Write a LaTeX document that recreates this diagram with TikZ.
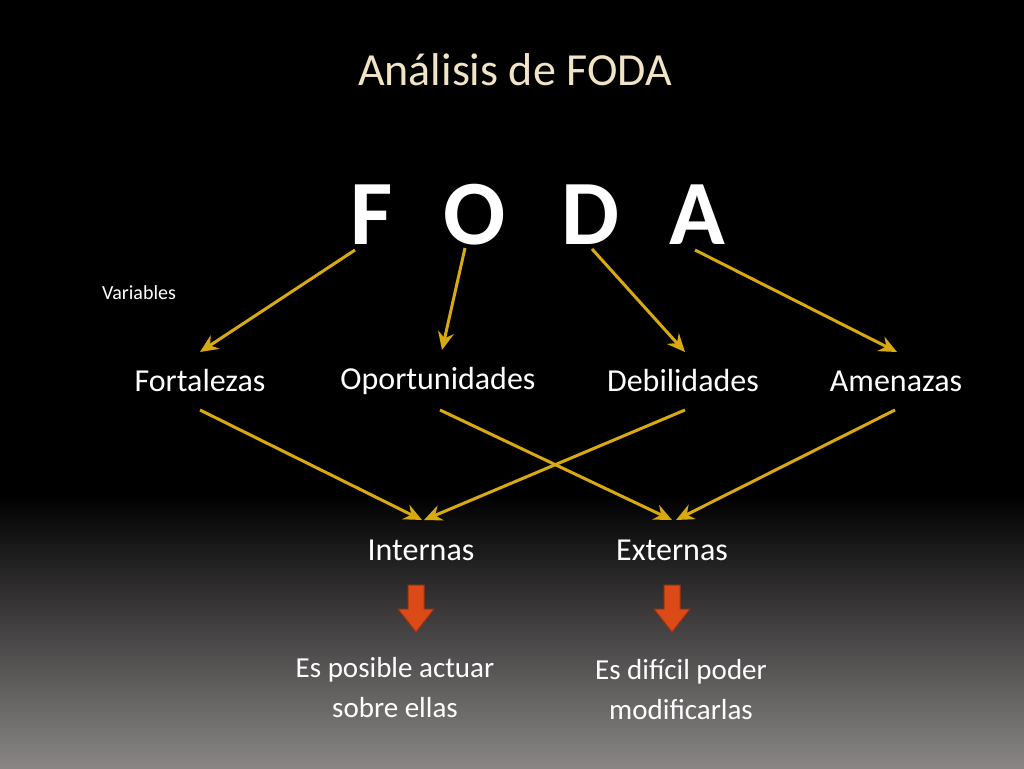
\documentclass[tikz,border=0pt]{standalone}
\usepackage{fontspec}
\setmainfont{Carlito}
\usetikzlibrary{arrows.meta}
\definecolor{gold}{HTML}{D8AA10}
\definecolor{cream}{HTML}{F0E4C4}
\definecolor{redarr}{HTML}{DC4A18}
\begin{document}
\begin{tikzpicture}[x=1pt,y=-1pt,
  lbl/.style={text=white,font=\fontsize{32}{36}\selectfont,inner sep=0},
  big/.style={text=white,font=\fontsize{92}{96}\selectfont\bfseries,inner sep=0},
  conn/.style={draw=gold,line width=3,-{Stealth[length=18,width=16,inset=6]},shorten <=0,shorten >=0},
  down/.style={fill=redarr,draw=redarr!70!black,line width=1}]
\useasboundingbox (0,0) rectangle (1024,768);
\fill[black] (0,0) rectangle (1024,768);
\shade[top color=black,bottom color=black!45!red!5!white!55!black] (0,495) rectangle (1024,768);
\node[text=cream,font=\fontsize{46}{50}\selectfont,inner sep=0] (title) at (515,70) {Análisis de FODA};
\node[big] (F) at (372,215) {F};
\node[big] (O) at (475,215) {O};
\node[big] (D) at (590,215) {D};
\node[big] (A) at (697,215) {A};
\node[text=white,font=\fontsize{20}{24}\selectfont,inner sep=0] (var) at (139,293) {Variables};
\node[lbl] (fo) at (200,381) {Fortalezas};
\node[lbl] (op) at (438,381) {Oportunidades};
\node[lbl] (de) at (683,381) {Debilidades};
\node[lbl] (am) at (896,381) {Amenazas};
\node[lbl] (in) at (421,550) {Internas};
\node[lbl] (ex) at (672,550) {Externas};
\node[lbl,align=center,font=\fontsize{29}{40}\selectfont] (t1) at (395,688) {Es posible actuar\\sobre ellas};
\node[lbl,align=center,font=\fontsize{29}{40}\selectfont] (t2) at (681,690) {Es difícil poder\\modificarlas};
\coordinate (f1) at (355,250); \coordinate (f2) at (200,352);
\coordinate (o1) at (465,248); \coordinate (o2) at (442,350);
\coordinate (d1) at (592,249); \coordinate (d2) at (685,352);
\coordinate (a1) at (695,250); \coordinate (a2) at (897,352);
\coordinate (fb) at (200,410); \coordinate (ob) at (440,410);
\coordinate (db) at (685,410); \coordinate (ab) at (895,410);
\coordinate (i1) at (422,520); \coordinate (i2) at (424,520);
\coordinate (e1) at (672,520); \coordinate (e2) at (676,520);
\draw[conn] (f1) -- (f2);
\draw[conn] (o1) -- (o2);
\draw[conn] (d1) -- (d2);
\draw[conn] (a1) -- (a2);
\draw[conn] (fb) -- (i1);
\draw[conn] (ob) -- (e1);
\draw[conn] (db) -- (i2);
\draw[conn] (ab) -- (e2);
\foreach \x in {416,672}{
  \draw[down] (\x-8,585) -- (\x+8,585) -- (\x+8,609) -- (\x+18,609) -- (\x,632) -- (\x-18,609) -- (\x-8,609) -- cycle;}
\end{tikzpicture}
\end{document}
